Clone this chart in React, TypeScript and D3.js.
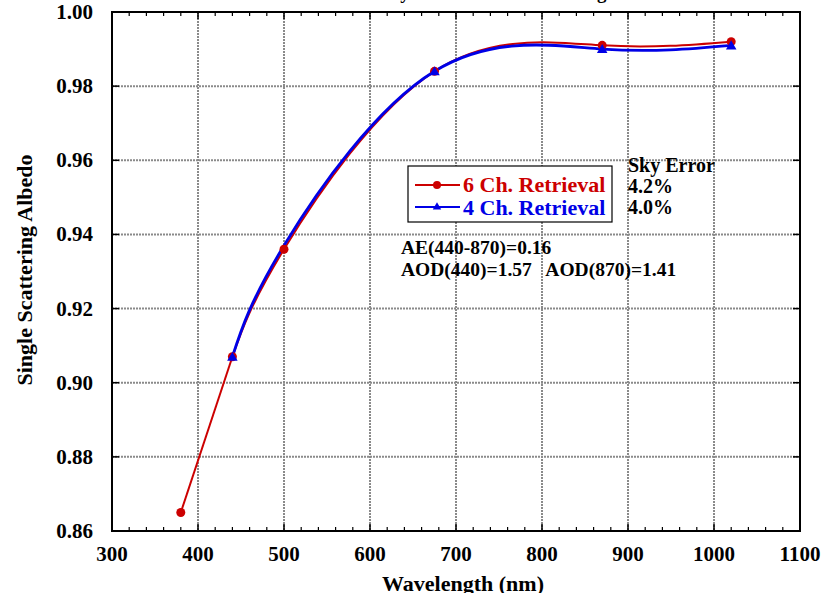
import React from "react";
import * as d3 from "d3";

// Wavelengths (nm) and single scattering albedo for each retrieval
const wl6 = [380, 440, 500, 675, 870, 1020];
const ssa6 = [0.865, 0.907, 0.936, 0.984, 0.991, 0.992];
const wl4 = [440, 500, 675, 870, 1020];
const ssa4 = [0.907, 0.937, 0.984, 0.990, 0.991];
const ch4Markers = [true, false, true, true, true];

const xTicks = [300, 400, 500, 600, 700, 800, 900, 1000, 1100];
const yTicks = [0.86, 0.88, 0.9, 0.92, 0.94, 0.96, 0.98, 1.0];

const legendLabels = ["6 Ch. Retrieval", "4 Ch. Retrieval"];
const skyError = ["Sky Error", "4.2%", "4.0%"];
const notes = ["AE(440-870)=0.16", "AOD(440)=1.57   AOD(870)=1.41"];

const W = 826;
const H = 593;
const m = { left: 112, right: 800, top: 12, bottom: 531 };
const RED = "#cc0000";
const BLUE = "#0000e6";
const FONT = "'Liberation Serif', 'Times New Roman', serif";

export default function App() {
  const x = d3.scaleLinear().domain([300, 1100]).range([m.left, m.right]);
  const y = d3.scaleLinear().domain([0.86, 1.0]).range([m.bottom, m.top]);

  const minorX = d3.range(300, 1101, 20).filter((v) => v % 100 !== 0);

  const pts6 = wl6.map((w, i) => [x(w), y(ssa6[i])] as [number, number]);
  const pts4 = wl4.map((w, i) => [x(w), y(ssa4[i])] as [number, number]);

  const smooth = d3.line().curve(d3.curveNatural);
  const straight = d3.line();

  // The shortest wavelength is joined by a straight segment, the rest is a spline
  const red1 = straight(pts6.slice(0, 2)) || "";
  const red2 = smooth(pts6.slice(1)) || "";
  const blue = smooth(pts4) || "";

  const tri = d3.symbol().type(d3.symbolTriangle).size(48)() || "";

  const gridStyle = { stroke: "#8a8a8a", strokeWidth: 2, strokeDasharray: "2 1" };

  return (
    <div style={{ position: "fixed", left: 0, top: 0 }}>
      <svg width={W} height={H} style={{ display: "block", background: "#fff" }} fontFamily={FONT}>
        {/* title, mostly above the visible area */}
        <text x={478} y={-1} textAnchor="middle" fontSize={19} fontWeight="bold">
          Sensitivity to Number of Wavelengths
        </text>

        {/* grid */}
        {xTicks.slice(1, -1).map((v) => (
          <line key={"gx" + v} x1={x(v)} x2={x(v)} y1={m.top} y2={m.bottom} {...gridStyle} />
        ))}
        {yTicks.slice(1, -1).map((v) => (
          <line key={"gy" + v} x1={m.left} x2={m.right} y1={y(v)} y2={y(v)} {...gridStyle} />
        ))}

        {/* ticks */}
        {xTicks.map((v) => (
          <g key={"tx" + v}>
            <line x1={x(v)} x2={x(v)} y1={m.bottom} y2={m.bottom - 7} stroke="#000" strokeWidth={1.5} />
            <line x1={x(v)} x2={x(v)} y1={m.top} y2={m.top + 7} stroke="#000" strokeWidth={1.5} />
          </g>
        ))}
        {minorX.map((v) => (
          <g key={"mx" + v}>
            <line x1={x(v)} x2={x(v)} y1={m.bottom} y2={m.bottom - 4} stroke="#000" strokeWidth={1.2} />
            <line x1={x(v)} x2={x(v)} y1={m.top} y2={m.top + 4} stroke="#000" strokeWidth={1.2} />
          </g>
        ))}
        {yTicks.map((v) => (
          <g key={"ty" + v}>
            <line x1={m.left} x2={m.left + 7} y1={y(v)} y2={y(v)} stroke="#000" strokeWidth={1.5} />
            <line x1={m.right} x2={m.right - 7} y1={y(v)} y2={y(v)} stroke="#000" strokeWidth={1.5} />
          </g>
        ))}

        {/* frame */}
        <rect x={m.left} y={m.top} width={m.right - m.left} height={m.bottom - m.top} fill="none" stroke="#000" strokeWidth={2} />

        {/* tick labels */}
        {xTicks.map((v) => (
          <text key={"lx" + v} x={x(v)} y={561} textAnchor="middle" fontSize={21} fontWeight="bold">
            {v}
          </text>
        ))}
        {yTicks.map((v) => (
          <text key={"ly" + v} x={93} y={y(v) + 7} textAnchor="end" fontSize={21} fontWeight="bold">
            {v.toFixed(2)}
          </text>
        ))}

        {/* axis titles */}
        <text x={463} y={591} textAnchor="middle" fontSize={22} fontWeight="bold">
          Wavelength (nm)
        </text>
        <text transform={`translate(32,${270}) rotate(-90)`} textAnchor="middle" fontSize={22} fontWeight="bold">
          Single Scattering Albedo
        </text>

        {/* series */}
        <path d={red1} fill="none" stroke={RED} strokeWidth={2} />
        <path d={red2} fill="none" stroke={RED} strokeWidth={2} />
        <path d={blue} fill="none" stroke={BLUE} strokeWidth={2.8} />
        {pts6.map((p, i) => (
          <circle key={"c" + i} cx={p[0]} cy={p[1]} r={4.5} fill={RED} />
        ))}
        {pts4.map((p, i) =>
          ch4Markers[i] ? <path key={"t" + i} d={tri} transform={`translate(${p[0]},${p[1] + 1})`} fill={BLUE} /> : null
        )}

        {/* legend */}
        <rect x={408} y={166} width={204} height={56} fill="#fff" stroke="#000" strokeWidth={1.2} />
        <line x1={415} x2={460} y1={185} y2={185} stroke={RED} strokeWidth={2} />
        <circle cx={437} cy={185} r={4} fill={RED} />
        <line x1={415} x2={460} y1={207} y2={207} stroke={BLUE} strokeWidth={2} />
        <path d={tri} transform="translate(437,207) scale(0.8)" fill={BLUE} />
        <text x={463} y={192} fontSize={22} fontWeight="bold" fill={RED}>
          {legendLabels[0]}
        </text>
        <text x={463} y={215} fontSize={22} fontWeight="bold" fill={BLUE}>
          {legendLabels[1]}
        </text>

        {/* sky error annotation */}
        {skyError.map((s, i) => (
          <text key={"se" + i} x={628} y={172 + i * 21} fontSize={20} fontWeight="bold">
            {s}
          </text>
        ))}

        {/* aerosol notes */}
        {notes.map((s, i) => (
          <text key={"n" + i} x={401} y={254 + i * 22} fontSize={19.5} fontWeight="bold" style={{ whiteSpace: "pre" }}>
            {s}
          </text>
        ))}
      </svg>
    </div>
  );
}
